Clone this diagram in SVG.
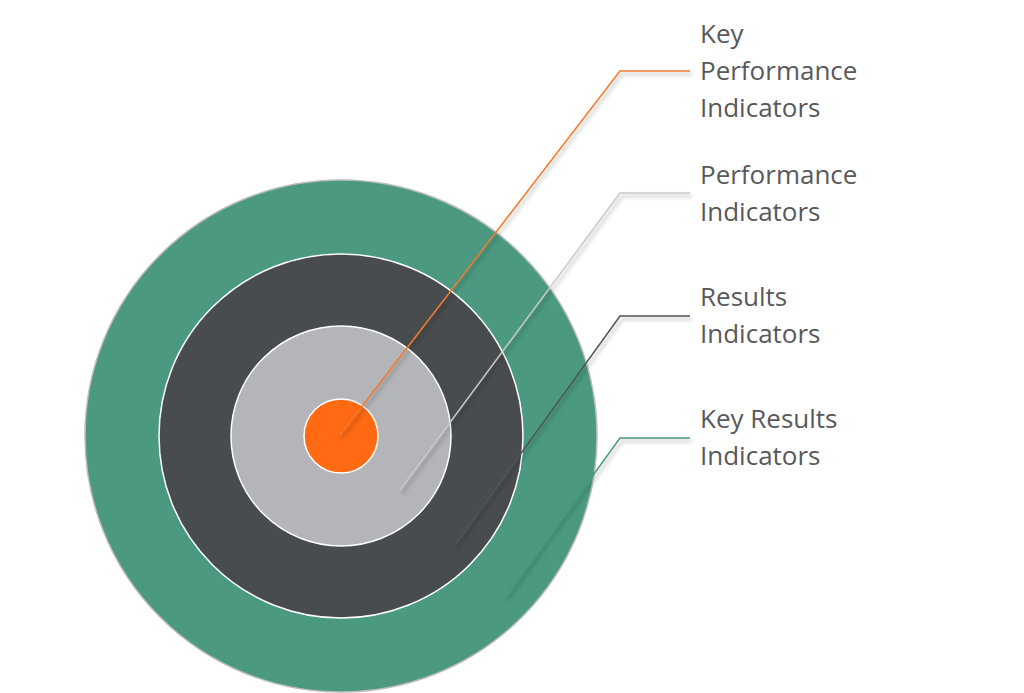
<svg xmlns="http://www.w3.org/2000/svg" width="1024" height="693" viewBox="0 0 1024 693">
<defs>
<filter id="sh" x="-20%" y="-20%" width="140%" height="140%"><feGaussianBlur in="SourceAlpha" stdDeviation="2"/><feOffset dx="2" dy="3"/><feComponentTransfer><feFuncA type="linear" slope="0.35"/></feComponentTransfer><feMerge><feMergeNode/><feMergeNode in="SourceGraphic"/></feMerge></filter>
</defs>
<style>
text{font-family:"Open Sans","Noto Sans",sans-serif;font-size:26px;fill:#58595b}
.c{stroke:#fff;stroke-width:1.5}
.l{fill:none;stroke-width:1.5}
</style>
<rect width="1024" height="693" fill="#fff"/>
<g id="ring-kri"><circle cx="341" cy="436" r="256" fill="#4a9980" stroke="#bbb" stroke-width="1.5"/></g>
<g id="ring-ri"><circle class="c" cx="341" cy="436" r="182" fill="#484c4f"/></g>
<g id="ring-pi"><circle class="c" cx="341" cy="436" r="110" fill="#b4b5b8"/></g>
<g id="ring-kpi"><circle class="c" cx="341" cy="436" r="37" fill="#ff6a13"/></g>
<g id="connectors" filter="url(#sh)">
<polyline class="l" stroke="#f47a2c" points="340,435 620,71 690,71"/>
<polyline class="l" stroke="#c8c8c8" points="400,490 620,193 690,193"/>
<polyline class="l" stroke="#505457" points="455,545 620,316 690,316"/>
<polyline class="l" stroke="#4a9980" points="505,597 620,438 690,438"/>
</g>
<g id="label-kpi"><text x="700" y="43">Key</text><text x="700" y="80">Performance</text><text x="700" y="117">Indicators</text></g>
<g id="label-pi"><text x="700" y="184">Performance</text><text x="700" y="221">Indicators</text></g>
<g id="label-ri"><text x="700" y="306">Results</text><text x="700" y="343">Indicators</text></g>
<g id="label-kri"><text x="700" y="428">Key Results</text><text x="700" y="465">Indicators</text></g>
</svg>
